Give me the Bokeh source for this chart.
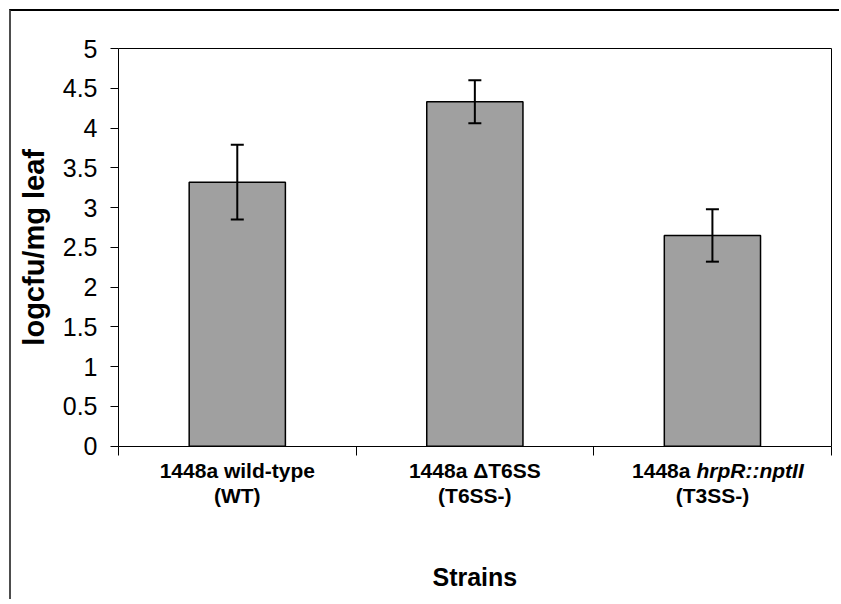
from bokeh.plotting import figure
from bokeh.models import Range1d, FixedTicker, Whisker, ColumnDataSource, Label, TeeHead, LinearAxis
from bokeh.embed import file_html
from bokeh.resources import INLINE

# ---- data ----
categories = ["1448a wild-type (WT)", "1448a \u0394T6SS (T6SS-)", "1448a hrpR::nptII (T3SS-)"]
label_line1 = ["1448a wild-type", "1448a \u0394T6SS", "1448a"]
label_line1_italic = ["", "", "hrpR::nptII"]
label_line2 = ["(WT)", "(T6SS-)", "(T3SS-)"]
values = [3.32, 4.33, 2.65]
errors = [0.47, 0.27, 0.33]
y_ticks = [0, 0.5, 1, 1.5, 2, 2.5, 3, 3.5, 4, 4.5, 5]
y_tick_labels = ["0", "0.5", "1", "1.5", "2", "2.5", "3", "3.5", "4", "4.5", "5"]
x_label = "Strains"
y_label = "logcfu/mg leaf"

FONT = "Liberation Sans"
N = len(categories)
Y_MAX = 5

# ---- layout (pixels on the canvas) ----
W, H = 830, 590
PLOT_LEFT, PLOT_W = 107, 712.7     # x = 0 .. N
PLOT_TOP, PLOT_H = 37, 397.7       # y = Y_MAX .. 0
PXX = PLOT_W / N
PXY = PLOT_H / Y_MAX
x_start = -PLOT_LEFT / PXX
x_end = N + (W - PLOT_LEFT - PLOT_W) / PXX
y_end = Y_MAX + PLOT_TOP / PXY
y_start = y_end - H / PXY

def py(px_below_zero):
    """pixel distance below the y=0 line -> data y"""
    return -px_below_zero / PXY

xs = [i + 0.5 for i in range(N)]
src = ColumnDataSource(dict(
    x=xs, top=values,
    upper=[v + e for v, e in zip(values, errors)],
    lower=[v - e for v, e in zip(values, errors)],
))

p = figure(width=W, height=H, output_backend="svg", toolbar_location=None,
           x_range=Range1d(x_start, x_end), y_range=Range1d(y_start, y_end),
           min_border_left=0, min_border_right=0, min_border_top=0, min_border_bottom=0)
p.styles = {"border-left": "2px solid #4d4d4d", "border-top": "2px solid #000000",
            "margin-left": "9px", "margin-top": "9px"}

p.xgrid.visible = False
p.ygrid.visible = False
p.outline_line_color = None
p.background_fill_color = "white"
p.border_fill_color = "white"

p.vbar(x="x", top="top", width=0.405, source=src, fill_color="#a0a0a0",
       line_color="black", line_width=1.5)

w = Whisker(source=src, base="x", upper="upper", lower="lower", level="overlay",
            line_color="black", line_width=2,
            upper_head=TeeHead(size=13, line_color="black", line_width=2),
            lower_head=TeeHead(size=13, line_color="black", line_width=2))
p.add_layout(w)

# y axis at x = 0
ya = p.yaxis[0]
ya.fixed_location = 0
ya.bounds = (0, Y_MAX)
ya.ticker = FixedTicker(ticks=y_ticks)
ya.major_label_overrides = {t: s for t, s in zip(y_ticks, y_tick_labels)}
ya.major_label_text_font = FONT
ya.major_label_text_font_size = "25px"
ya.major_label_text_color = "black"
ya.major_tick_out = 8
ya.major_tick_in = 0
ya.minor_tick_line_color = None
ya.axis_line_color = "black"
ya.major_tick_line_color = "black"
ya.major_label_standoff = 13

# x axis at y = 0 (ticks on category boundaries)
xa = p.xaxis[0]
xa.fixed_location = 0
xa.bounds = (0, N)
xa.ticker = FixedTicker(ticks=list(range(N + 1)))
xa.major_label_overrides = {i: "" for i in range(N + 1)}
xa.major_label_text_color = None
xa.major_tick_out = 9
xa.major_tick_in = 0
xa.minor_tick_line_color = None
xa.axis_line_color = "black"
xa.major_tick_line_color = "black"

# plot-area border (top and right)
top_ax = LinearAxis(fixed_location=Y_MAX, bounds=(0, N), ticker=FixedTicker(ticks=[]),
                    major_tick_line_color=None, minor_tick_line_color=None,
                    major_label_text_color=None, axis_line_color="black")
right_ax = LinearAxis(fixed_location=N, bounds=(0, Y_MAX), ticker=FixedTicker(ticks=[]),
                      major_tick_line_color=None, minor_tick_line_color=None,
                      major_label_text_color=None, axis_line_color="black")
p.add_layout(top_ax, "above")
p.add_layout(right_ax, "right")

def add_label(x, y, text, align, style, size, dx=0, angle=0):
    p.add_layout(Label(x=x, y=y, x_offset=dx, text=text, text_align=align, angle=angle,
                       angle_units="deg", text_baseline="alphabetic", text_font=FONT,
                       text_font_style=style, text_font_size=size, text_color="black"))

# category labels (two lines, partly italic)
for i, x in enumerate(xs):
    if label_line1_italic[i]:
        add_label(x, py(24), label_line1[i], "right", "bold", "21px", dx=-22)
        add_label(x, py(24), label_line1_italic[i], "left", "bold italic", "21px", dx=-16)
    else:
        add_label(x, py(24), label_line1[i], "center", "bold", "21px")
    add_label(x, py(49), label_line2[i], "center", "bold", "21px")

# axis titles
add_label(N / 2, py(131), x_label, "center", "bold", "25px")
add_label(-(PLOT_LEFT - 22) / PXX, Y_MAX / 2, y_label, "center", "bold", "29px", angle=90)

open("out.html", "w").write(file_html(p, INLINE))
